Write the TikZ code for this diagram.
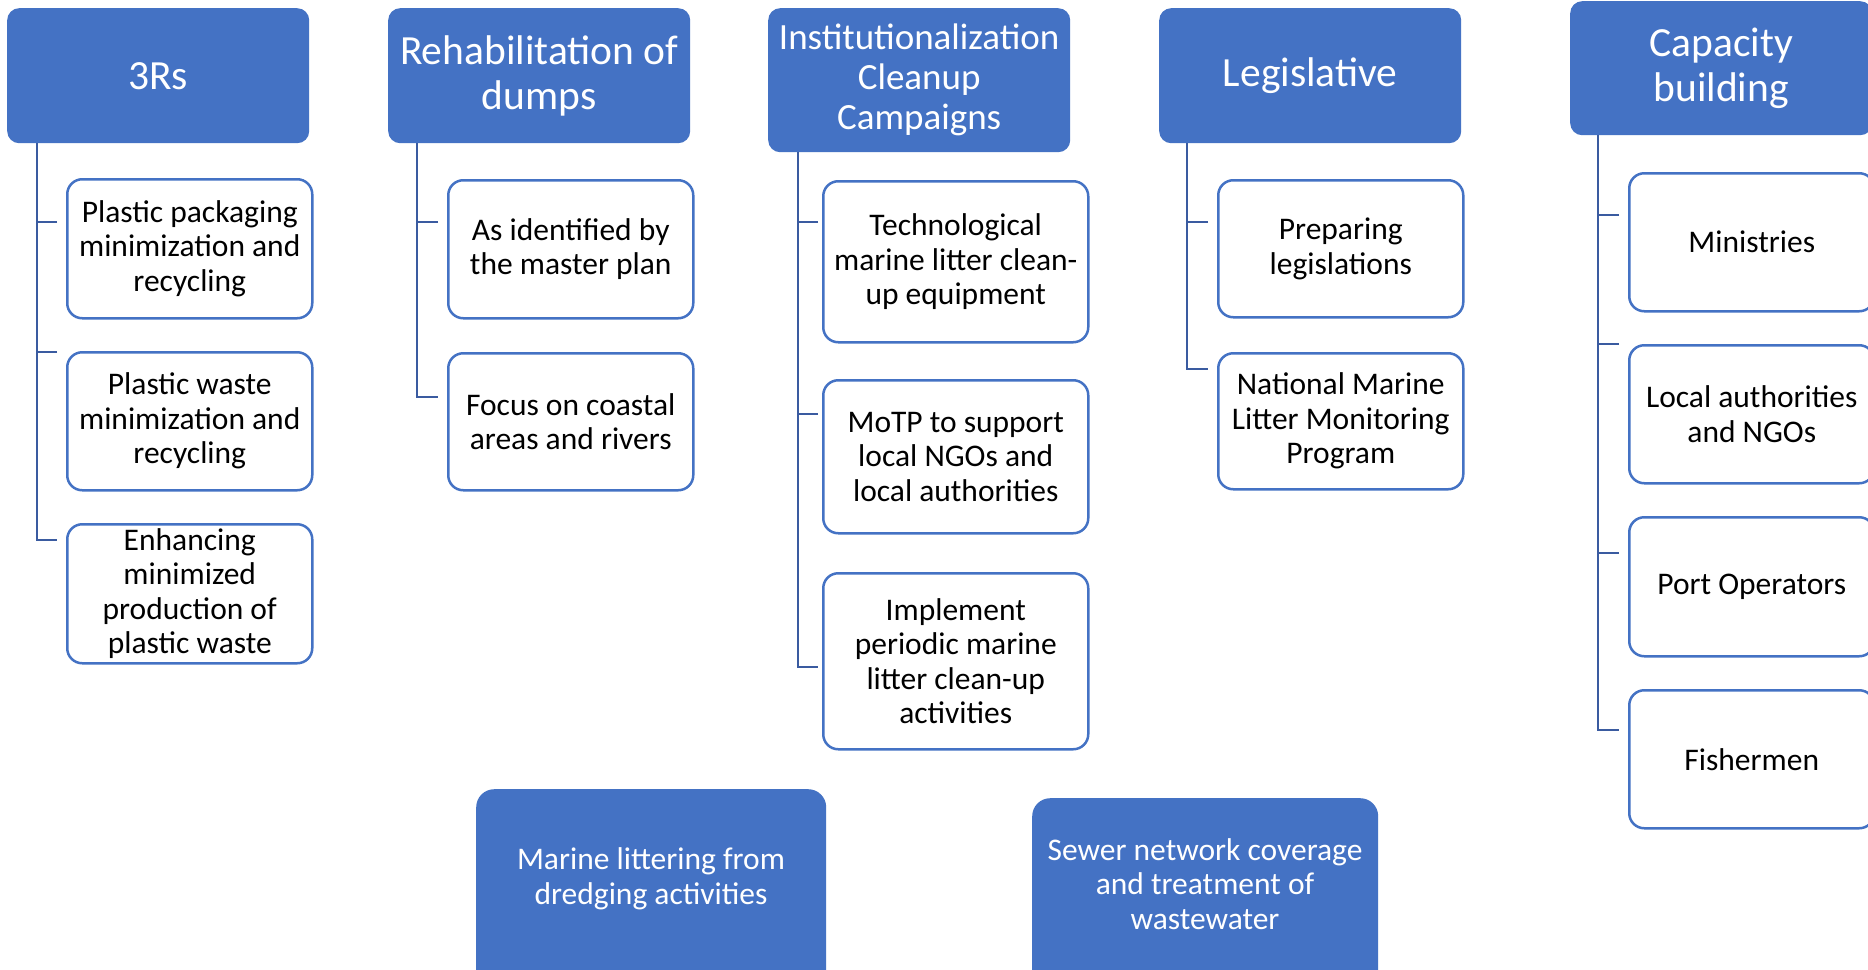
\documentclass[tikz,border=0pt]{standalone}
\usepackage{fontspec}
\setmainfont{Carlito}
\definecolor{hblue}{HTML}{4472C4}
\definecolor{lblue}{HTML}{3A5BA0}
\begin{document}
\begin{tikzpicture}[x=1pt,y=-1pt,
 hdr/.style={fill=hblue, draw=none, rounded corners=12pt, text=white, align=center, inner sep=0pt, anchor=north west, minimum width=302pt, font=\fontsize{41.5}{45.5}\selectfont},
 kid/.style={draw=hblue, line width=2.5pt, fill=white, rounded corners=15pt, align=center, inner sep=0pt, anchor=north west, minimum width=245pt, font=\fontsize{31.5}{34.5}\selectfont},
 bot/.style={fill=hblue, draw=none, rounded corners=18pt, inner sep=0pt, anchor=north west},
 bottext/.style={text=white, align=center, inner sep=0pt, font=\fontsize{31.5}{34.5}\selectfont},
 conn/.style={draw=lblue, line width=2.7pt}]
\useasboundingbox (0,0) rectangle (1868,969);
\fill[white] (0,0) rectangle (1868,969);
\clip (0,0) rectangle (1868,969);

% headers
\node[hdr, minimum height=135pt] (h1) at (7,8) {3Rs};
\node[hdr, minimum height=135pt] (h2) at (388,8) {Rehabilitation of\\dumps};
\node[hdr, minimum height=144pt, font=\fontsize{37}{40}\selectfont] (h3) at (768,8) {Institutionalization\\Cleanup\\Campaigns};
\node[hdr, minimum height=135pt] (h4) at (1159,8) {Legislative};
\node[hdr, minimum height=134pt] (h5) at (1570,1) {Capacity\\building};

% 3Rs children
\node[kid, minimum height=139pt] (a1) at (66,178) {Plastic packaging\\minimization and\\recycling};
\node[kid, minimum height=138pt] (a2) at (66,351) {Plastic waste\\minimization and\\recycling};
\node[kid, minimum height=139pt] (a3) at (66,523) {Enhancing\\minimized\\production of\\plastic waste};

% Rehabilitation children
\node[kid, minimum height=138pt] (b1) at (447,179) {As identified by\\the master plan};
\node[kid, minimum height=137pt] (b2) at (447,352) {Focus on coastal\\areas and rivers};

% Institutionalization children
\node[kid, minimum width=265pt, minimum height=161pt] (c1) at (822,180) {Technological\\marine litter clean-\\up equipment};
\node[kid, minimum width=265pt, minimum height=153pt] (c2) at (822,379) {MoTP to support\\local NGOs and\\local authorities};
\node[kid, minimum width=265pt, minimum height=176pt] (c3) at (822,572) {Implement\\periodic marine\\litter clean-up\\activities};

% Legislative children
\node[kid, minimum height=137pt] (d1) at (1217,179) {Preparing\\legislations};
\node[kid, minimum height=136pt] (d2) at (1217,352) {National Marine\\Litter Monitoring\\Program};

% Capacity children
\node[kid, minimum height=138pt] (e1) at (1628,172) {Ministries};
\node[kid, minimum height=138pt] (e2) at (1628,344) {Local authorities\\and NGOs};
\node[kid, minimum height=139pt] (e3) at (1628,516) {Port Operators};
\node[kid, minimum height=138pt] (e4) at (1628,689) {Fishermen};

% bottom boxes (run past the lower edge)
\node[bot, minimum width=350pt, minimum height=220pt] (m1) at (476,789) {};
\node[bottext] (m1t) at (651,879) {Marine littering from\\dredging activities};
\node[bot, minimum width=346pt, minimum height=211pt] (m2) at (1032,798) {};
\node[bottext] (m2t) at (1205,884) {Sewer network coverage\\and treatment of\\wastewater};

% spine coordinates
\coordinate (s1) at (37,0);
\coordinate (s2) at (417,0);
\coordinate (s3) at (798,0);
\coordinate (s4) at (1187,0);
\coordinate (s5) at (1598,0);

% tick end points
\coordinate (a1t) at ([xshift=-9pt,yshift=-44pt]a1.north west);
\coordinate (a2t) at ([xshift=-9pt,yshift=-1pt]a2.north west);
\coordinate (a3t) at ([xshift=-9pt,yshift=-17pt]a3.north west);
\coordinate (b1t) at ([xshift=-9pt,yshift=-43pt]b1.north west);
\coordinate (b2t) at ([xshift=-9pt,yshift=-45pt]b2.north west);
\coordinate (c1t) at ([xshift=-4pt,yshift=-42pt]c1.north west);
\coordinate (c2t) at ([xshift=-4pt,yshift=-35pt]c2.north west);
\coordinate (c3t) at ([xshift=-4pt,yshift=-95pt]c3.north west);
\coordinate (d1t) at ([xshift=-9pt,yshift=-43pt]d1.north west);
\coordinate (d2t) at ([xshift=-9pt,yshift=-17pt]d2.north west);
\coordinate (e1t) at ([xshift=-9pt,yshift=-43pt]e1.north west);
\coordinate (e2t) at ([xshift=-9pt,yshift=0pt]e2.north west);
\coordinate (e3t) at ([xshift=-9pt,yshift=-37pt]e3.north west);
\coordinate (e4t) at ([xshift=-9pt,yshift=-41pt]e4.north west);

% connectors
\draw[conn] (h1.south -| s1) |- (a3t);
\draw[conn] (a1t) -- (a1t -| s1);
\draw[conn] (a2t) -- (a2t -| s1);

\draw[conn] (h2.south -| s2) |- (b2t);
\draw[conn] (b1t) -- (b1t -| s2);

\draw[conn] (h3.south -| s3) |- (c3t);
\draw[conn] (c1t) -- (c1t -| s3);
\draw[conn] (c2t) -- (c2t -| s3);

\draw[conn] (h4.south -| s4) |- (d2t);
\draw[conn] (d1t) -- (d1t -| s4);

\draw[conn] (h5.south -| s5) |- (e4t);
\draw[conn] (e1t) -- (e1t -| s5);
\draw[conn] (e2t) -- (e2t -| s5);
\draw[conn] (e3t) -- (e3t -| s5);
\end{tikzpicture}
\end{document}
